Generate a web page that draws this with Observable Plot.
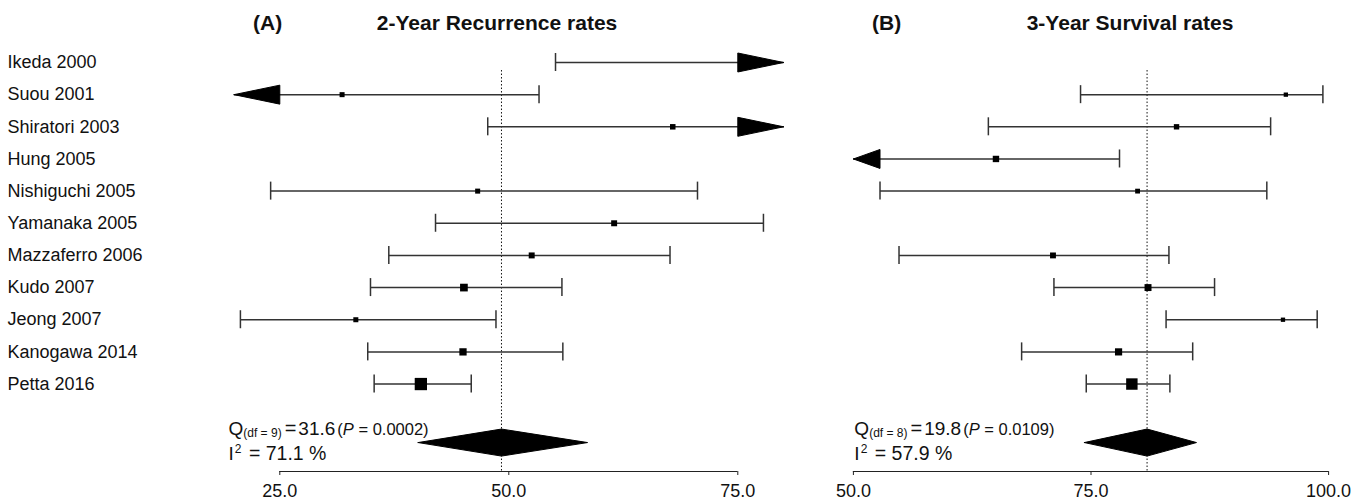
<!DOCTYPE html>
<html>
<head>
<meta charset="utf-8">
<script src="https://cdn.jsdelivr.net/npm/d3@7"></script>
<script src="https://cdn.jsdelivr.net/npm/@observablehq/plot@0.6"></script>
<style>
  html, body { margin: 0; padding: 0; background: #fff; }
  #wrap { position: relative; width: 1354px; height: 502px; overflow: hidden;
          font-family: "Liberation Sans", Arial, sans-serif; color: #111; }
  #wrap svg { position: absolute; top: 0; }
  .ttl { position: absolute; top: 12px; font-weight: bold; font-size: 21px; line-height: 21px; white-space: nowrap; }
</style>
</head>
<body>
<div id="wrap">
  <div class="ttl" style="left:253px">(A)</div>
  <div class="ttl" style="left:497px;transform:translateX(-50%)">2-Year Recurrence rates</div>
  <div class="ttl" style="left:872px">(B)</div>
  <div class="ttl" style="left:1130px;transform:translateX(-50%)">3-Year Survival rates</div>
</div>
<script>
// ---------------- data ----------------
const studies = ["Ikeda 2000", "Suou 2001", "Shiratori 2003", "Hung 2005", "Nishiguchi 2005",
  "Yamanaka 2005", "Mazzaferro 2006", "Kudo 2007", "Jeong 2007", "Kanogawa 2014", "Petta 2016"];

// (A) 2-year recurrence rates (%); null = beyond plotted limits / not reported
const recLower  = [55.1, null, 47.7, null, 24.0, 42.0, 36.9, 34.9, 20.7, 34.6, 35.3];
const recEst    = [null, 31.8, 67.9, null, 46.6, 61.5, 52.5, 45.1, 33.3, 45.0, 40.4];
const recUpper  = [null, 53.3, null, null, 70.6, 77.8, 67.6, 55.8, 48.6, 55.9, 45.9];
const recWeight = [null, 8.4, 9.2, null, 8.4, 10.0, 10.0, 12.9, 8.4, 12.2, 20.6];
const recPooled = [49.2, 40.1, 58.6];           // estimate, lower, upper
const recLimits = [20, 80];
const recTicks  = [25, 50, 75];
const recStats  = { q: "31.6", df: 9, p: "0.0002", i2: "71.1" };

// (B) 3-year survival rates (%)
const survLower  = [null, 73.9, 64.2, null, 52.8, null, 54.8, 71.1, 82.9, 67.7, 74.5];
const survEst    = [null, 95.5, 84.0, 65.0, 79.9, null, 71.0, 81.0, 95.2, 77.9, 79.3];
const survUpper  = [null, 99.4, 93.9, 78.0, 93.5, null, 83.2, 88.0, 98.8, 85.7, 83.3];
const survWeight = [null, 7.6, 9.5, 11.3, 8.5, null, 10.4, 12.3, 7.6, 12.7, 20.2];
const survPooled = [80.9, 74.3, 86.1];
const survLimits = [50, 100];
const survTicks  = [50, 75, 100];
const survStats  = { q: "19.8", df: 8, p: "0.0109", i2: "57.9" };

// ---------------- layout (rows in study units) ----------------
const AXROW = 12.72, DROW = 11.82, DH = 0.42, WH = 0.28, AH = 0.295, DOTTOP = 0.25;
const QROW = 11.42, IROW = 12.19;
const FONT = '"Liberation Sans", Arial, sans-serif';

function panel(cfg) {
  const rows = studies.map((name, i) => ({ name, i, lo: cfg.lower[i], est: cfg.est[i], hi: cfg.upper[i], w: cfg.weight[i] }))
    .filter(d => !(d.lo == null && d.est == null && d.hi == null));
  const [xmin, xmax] = cfg.limits;
  const segs = rows.map(d => ({ i: d.i, x1: d.lo ?? xmin, x2: d.hi ?? xmax }));
  const whiskers = rows.flatMap(d => [d.lo, d.hi].filter(v => v != null).map(v => ({ i: d.i, x: v })));
  const arrows = rows.flatMap(d => {
    const out = [];
    if (d.lo == null) out.push({ i: d.i, tip: xmin, base: xmin + cfg.arrowLen });
    if (d.hi == null) out.push({ i: d.i, tip: xmax, base: xmax - cfg.arrowLen });
    return out;
  });
  const arrowPts = arrows.flatMap((a, k) => [
    { k, x: a.tip, y: a.i }, { k, x: a.base, y: a.i - AH }, { k, x: a.base, y: a.i + AH }, { k, x: a.tip, y: a.i }
  ]);
  const [pe, pl, pu] = cfg.pooled;
  const diamond = [
    { x: pl, y: DROW }, { x: pe, y: DROW - DH }, { x: pu, y: DROW }, { x: pe, y: DROW + DH }, { x: pl, y: DROW }
  ];
  const t = cfg.ticks;
  const svg = Plot.plot({
    width: cfg.width, height: 502,
    marginLeft: 7, marginRight: 0, marginTop: 0, marginBottom: 31,
    style: { fontFamily: FONT, fontSize: "18px", background: "transparent", color: "#111", overflow: "visible" },
    x: { domain: cfg.limits, range: cfg.xrange },
    y: { domain: [0, AXROW], range: [62, 471], axis: null },
    r: { type: "linear", domain: [0, cfg.wMax], range: [0, cfg.rMax] },
    marks: [
      cfg.labels ? Plot.text(studies, { frameAnchor: "left", y: (d, i) => i, text: d => d, textAnchor: "start", fill: "#111" }) : null,
      Plot.ruleX([pe], { x: d => d, y1: DOTTOP, y2: AXROW, stroke: "#111", strokeWidth: 1, strokeDasharray: "1.5,2" }),
      Plot.link(segs, { x1: "x1", x2: "x2", y1: "i", y2: "i", stroke: "#333", strokeWidth: 1.5 }),
      Plot.ruleX(whiskers, { x: "x", y1: d => d.i - WH, y2: d => d.i + WH, stroke: "#333", strokeWidth: 1.5 }),
      Plot.line(arrowPts, { x: "x", y: "y", z: "k", fill: "#000", stroke: "#000", strokeWidth: 1 }),
      Plot.dot(rows.filter(d => d.est != null && d.w != null), { x: "est", y: "i", r: "w", symbol: "square", fill: "#000", stroke: "none" }),
      Plot.line(diamond, { x: "x", y: "y", fill: "#000", stroke: "#000", strokeWidth: 1 }),
      Plot.ruleY([AXROW], { x1: t[0], x2: t[t.length - 1], stroke: "#222", strokeWidth: 1 }),
      Plot.axisX({ ticks: t, tickFormat: d3.format(".1f"), tickSize: 4, tickPadding: 9, stroke: "#222", fill: "#111" }),
      Plot.text([cfg.stats], { x: cfg.statX, y: QROW, text: d => `Q(df = ${d.df}) = ${d.q} (P = ${d.p})`, textAnchor: "start", fill: "#111" }),
      Plot.text([cfg.stats], { x: cfg.statX, y: IROW, text: d => `I2 = ${d.i2} %`, textAnchor: "start", fill: "#111" })
    ]
  });
  svg.style.left = cfg.left + "px";
  const s = cfg.stats;
  const findTexts = (prefix) => Array.from(svg.querySelectorAll("text")).filter(el => el.textContent.startsWith(prefix));
  findTexts("Q(df").forEach(node => {
    const el = d3.select(node); el.text(null);
    el.append("tspan").attr("font-size", 19).text("Q");
    el.append("tspan").attr("font-size", 12).attr("dy", 2).text(`(df = ${s.df})`);
    el.append("tspan").attr("font-size", 20).attr("dy", -2).attr("dx", 3).text("=");
    el.append("tspan").attr("font-size", 19).attr("dx", 2).text(s.q);
    el.append("tspan").attr("font-size", 16.5).attr("dx", 2).text("(");
    el.append("tspan").attr("font-size", 16.5).attr("font-style", "italic").text("P");
    el.append("tspan").attr("font-size", 16.5).text(` = ${s.p})`);
  });
  findTexts("I2 =").forEach(node => {
    const el = d3.select(node); el.text(null);
    el.append("tspan").attr("font-size", 19).text("I");
    el.append("tspan").attr("font-size", 12).attr("dy", -7).attr("dx", 1).text("2");
    el.append("tspan").attr("font-size", 19.5).attr("dy", 7).attr("dx", 2).text(` = ${s.i2} %`);
  });
  document.getElementById("wrap").appendChild(svg);
}

panel({
  left: 0, width: 800, labels: true,
  lower: recLower, est: recEst, upper: recUpper, weight: recWeight,
  pooled: recPooled, limits: recLimits, ticks: recTicks, stats: recStats,
  xrange: [233.5, 783.1], arrowLen: 5, wMax: 20.6, rMax: 6.94, statX: 19.4
});
panel({
  left: 800, width: 554, labels: false,
  lower: survLower, est: survEst, upper: survUpper, weight: survWeight,
  pooled: survPooled, limits: survLimits, ticks: survTicks, stats: survStats,
  xrange: [52.9, 528.1], arrowLen: 2.8, wMax: 20.2, rMax: 6.45, statX: 50.1
});
</script>
</body>
</html>
